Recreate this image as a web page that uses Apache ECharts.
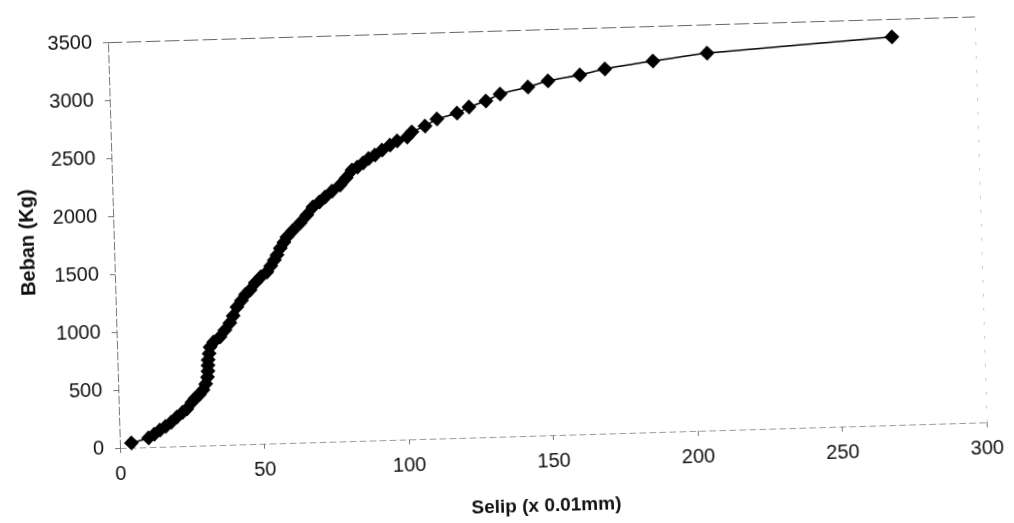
<!DOCTYPE html>
<html>
<head>
<meta charset="utf-8">
<script src="https://cdn.jsdelivr.net/npm/echarts@6/dist/echarts.min.js"></script>
<style>
  html, body { margin: 0; padding: 0; background: #fff; overflow: hidden; width: 1014px; height: 523px; }
  /* the sheet sits slightly turned, pivoting on the plot origin */
  #chart { position: absolute; left: 0; top: 0; width: 1014px; height: 570px;
           transform-origin: 120px 448px; transform: rotate(-1.7deg); }
</style>
</head>
<body>
<div id="chart"></div>
<script>
// Slip (x 0.01 mm) against load (kg)
const selip = [4, 10, 12, 14, 16, 18, 20, 22, 23.5, 25.4,
  26.5, 28, 29.3, 30.3, 31, 31.2, 31.3, 31.4, 31.8, 32.2,
  33.5, 35.7, 37.5, 39.3, 40.5, 41.9, 43.5, 45, 46.6, 48.5,
  50.5, 52.6, 54, 55.3, 56.3, 57.5, 58.8, 59.9, 62, 64.6,
  67, 69.2, 71.5, 73.5, 76, 78.8, 81, 83.1, 85, 87,
  89, 91.2, 93.7, 96.5, 99, 102.5, 104.2, 108.8, 113, 120,
  124.2, 130.1, 135.1, 144.8, 151.8, 162.9, 171.6, 188.3, 207.1, 271.2];
const beban = [40, 80, 110, 145, 175, 210, 252, 290, 320, 378,
  410, 440, 479, 530, 589, 640, 690, 736, 790, 847,
  890, 931, 990, 1049, 1110, 1185, 1240, 1290, 1328, 1390,
  1440, 1479, 1530, 1580, 1623, 1680, 1730, 1775, 1830, 1893,
  1960, 2027, 2070, 2110, 2160, 2210, 2270, 2336, 2360, 2394,
  2430, 2460, 2501, 2542, 2575, 2606, 2648, 2697, 2754, 2800,
  2849, 2897, 2953, 3006, 3053, 3097, 3142, 3198, 3253, 3344];

const xTitle = 'Selip (x 0.01mm)';
const yTitle = 'Beban (Kg)';

const points = selip.map((x, i) => [x, beban[i]]);

const font = 'Liberation Sans, Arial, sans-serif';
const plain = v => String(v);
const chart = echarts.init(document.getElementById('chart'), null, { renderer: 'canvas' });

chart.setOption({
  animation: false,
  backgroundColor: '#fff',
  grid: { left: 120, top: 42, width: 867, height: 406, containLabel: false },
  xAxis: [{
    type: 'value', min: 0, max: 300, interval: 50,
    name: xTitle, nameLocation: 'middle', nameGap: 61,
    nameTextStyle: { fontFamily: font, fontSize: 19, fontWeight: 'bold', color: '#111', padding: [0, 18, 0, 0] },
    axisLine: { show: true, onZero: false, lineStyle: { color: '#9a9a9a', width: 1, type: [6, 4] } },
    axisTick: { show: true, length: 5, lineStyle: { color: '#777' } },
    axisLabel: { fontFamily: font, fontSize: 20, color: '#111', margin: 16, formatter: plain },
    splitLine: { show: false }
  }, {
    type: 'value', min: 0, max: 300, position: 'top',
    axisLine: { show: true, onZero: false, lineStyle: { color: '#666', width: 1, type: [14, 5] } },
    axisTick: { show: false }, axisLabel: { show: false }, splitLine: { show: false }
  }],
  yAxis: [{
    type: 'value', min: 0, max: 3500, interval: 500,
    name: yTitle, nameLocation: 'middle', nameGap: 76, nameRotate: 90,
    nameTextStyle: { fontFamily: font, fontSize: 20, fontWeight: 'bold', color: '#111', padding: [0, 0, 0, 10] },
    axisLine: { show: true, onZero: false, lineStyle: { color: '#777', width: 1, type: [8, 3] } },
    axisTick: { show: true, length: 5, lineStyle: { color: '#777' } },
    axisLabel: { fontFamily: font, fontSize: 20, color: '#111', margin: 16, formatter: plain },
    splitLine: { show: false }
  }, {
    type: 'value', min: 0, max: 3500, position: 'right',
    axisLine: { show: true, onZero: false, lineStyle: { color: '#c4c4c4', width: 1, type: [2, 12] } },
    axisTick: { show: false }, axisLabel: { show: false }, splitLine: { show: false }
  }],
  series: [{
    type: 'line',
    data: points,
    xAxisIndex: 0, yAxisIndex: 0,
    smooth: 0.2,
    symbol: 'diamond',
    symbolSize: 15,
    itemStyle: { color: '#000' },
    lineStyle: { color: '#000', width: 1.5 },
    clip: false
  }]
});
</script>
</body>
</html>
